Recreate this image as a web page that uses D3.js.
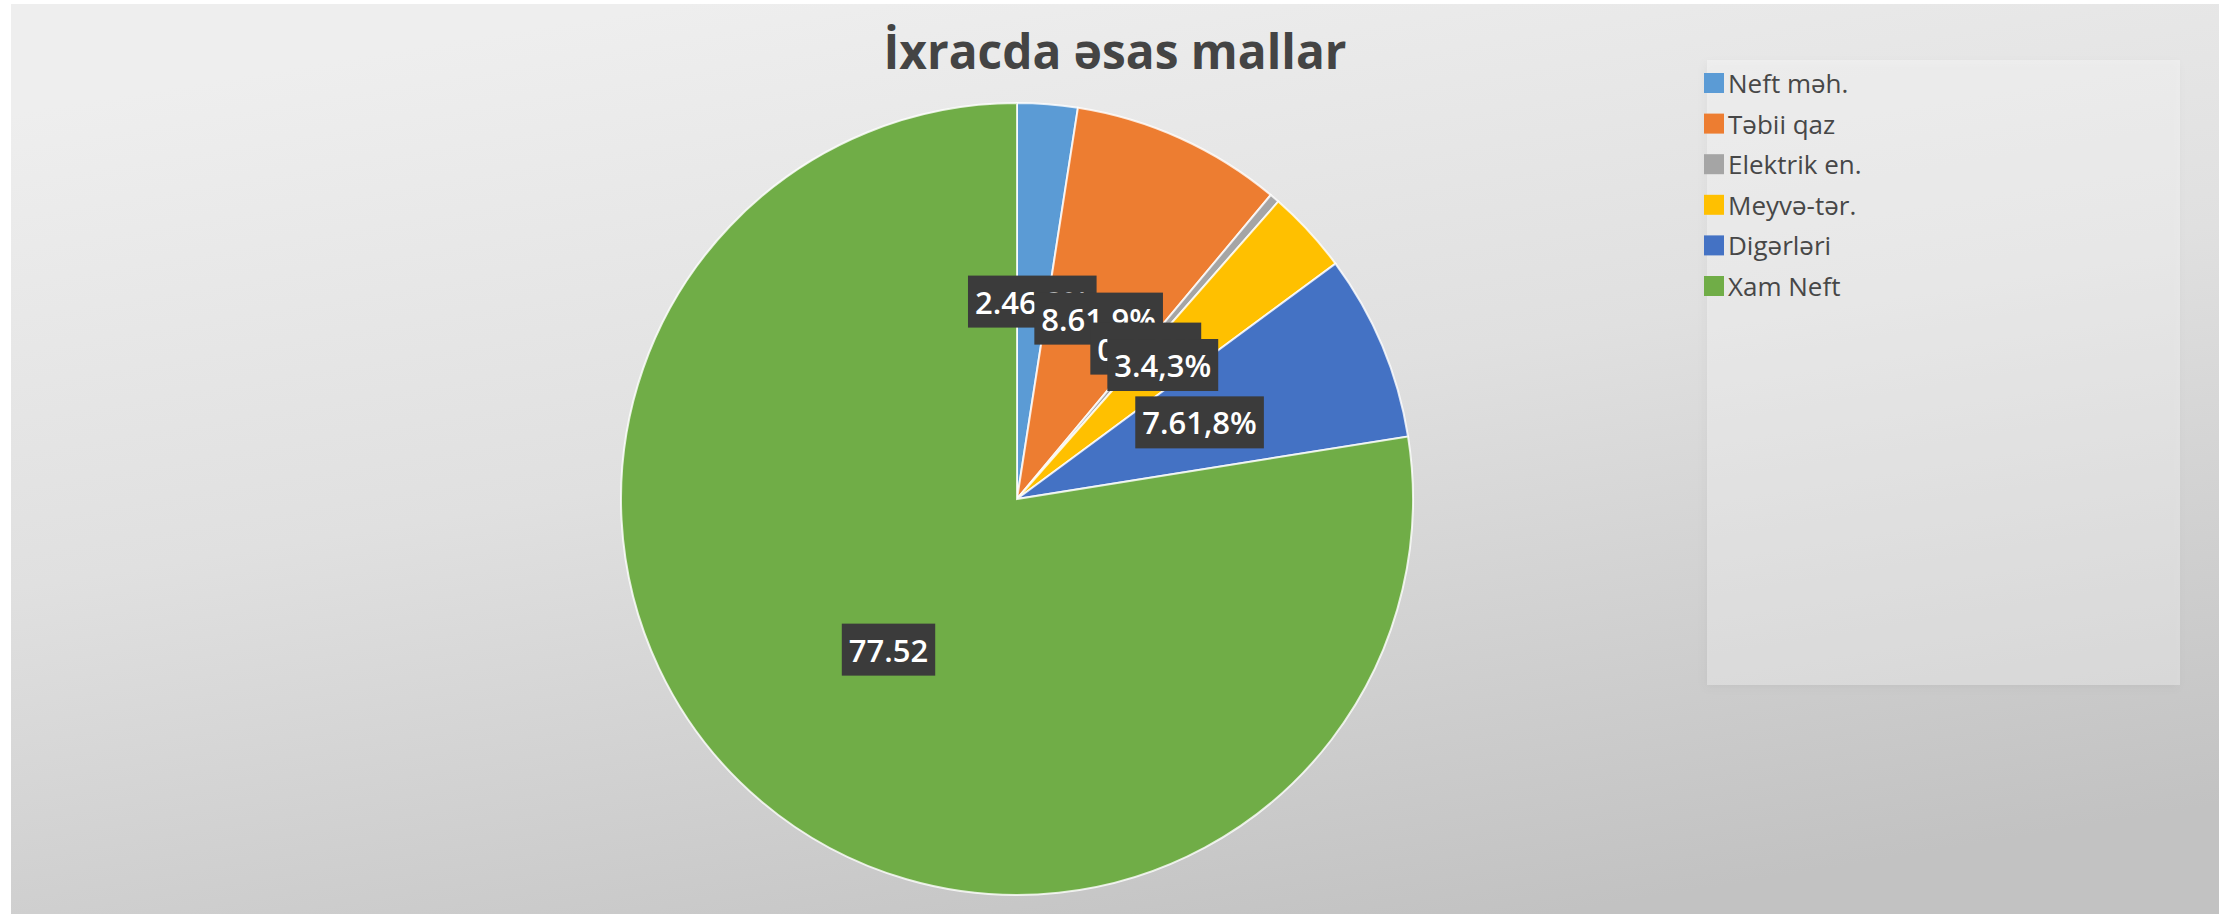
<!DOCTYPE html>
<html lang="az">
<head>
<meta charset="UTF-8">
<title>İxracda əsas mallar</title>
<script src="https://d3js.org/d3.v7.min.js"></script>
<style>
  body { margin: 0; background: #ffffff; }
  svg { display: block; }
  .title { font-family: "Open Sans", sans-serif; font-weight: 700; fill: #444444; }
  .legend text { font-family: "Open Sans", sans-serif; font-size: 26px; fill: #474747; }
  .labels text { font-family: "Open Sans", sans-serif; font-size: 31px; font-weight: 600; fill: #ffffff; }
</style>
</head>
<body>
<svg id="chart"></svg>
<script>
// data
const categories = ["Neft məh.", "Təbii qaz", "Elektrik en.", "Meyvə-tər.", "Digərləri", "Xam Neft"];
const values = [2.46, 8.61, 0.4, 3.4, 7.61, 77.52];
const labels = ["2.46,2%", "8.61,9%", "0.4,0%", "3.4,3%", "7.61,8%", "77.52"];
const colors = ["#5b9bd5", "#ed7d31", "#a5a5a5", "#ffc000", "#4472c4", "#70ad47"];

const w = 2234, h = 914;
const cx = 1017, cy = 499, radius = 396;

const svg = d3.select("#chart").attr("width", w).attr("height", h);
const defs = svg.append("defs");

// background gradient of the chart area
const bg = defs.append("linearGradient").attr("id", "bg")
  .attr("x1", "0.3").attr("y1", "0").attr("x2", "0.7").attr("y2", "1");
bg.append("stop").attr("offset", "0").attr("stop-color", "#eeeeee");
bg.append("stop").attr("offset", "0.45").attr("stop-color", "#e0e0e0");
bg.append("stop").attr("offset", "1").attr("stop-color", "#c2c2c2");

const shadow = defs.append("filter").attr("id", "soft")
  .attr("x", "-5%").attr("y", "-5%").attr("width", "110%").attr("height", "110%");
shadow.append("feDropShadow").attr("dx", -2).attr("dy", 3).attr("stdDeviation", 4)
  .attr("flood-color", "#000").attr("flood-opacity", 0.12);

svg.append("rect")
  .attr("x", 11).attr("y", 4).attr("width", 2208).attr("height", 910)
  .attr("fill", "url(#bg)");

// title
svg.append("text")
  .attr("class", "title")
  .attr("x", 1115).attr("y", 69)
  .attr("text-anchor", "middle")
  .attr("font-size", 48)
  .attr("textLength", 463).attr("lengthAdjust", "spacingAndGlyphs")
  .text("İxracda əsas mallar");

// legend
svg.append("rect")
  .attr("x", 1707).attr("y", 60).attr("width", 473).attr("height", 625)
  .attr("fill", "#ffffff").attr("fill-opacity", 0.3)
  .attr("filter", "url(#soft)");

const color = d3.scaleOrdinal().domain(categories).range(colors);
const rowY = d3.scalePoint().domain(categories).range([83, 286]);

const legend = svg.append("g").attr("class", "legend")
  .selectAll("g").data(categories).join("g")
  .attr("transform", d => `translate(1704,${rowY(d)})`);
legend.append("rect")
  .attr("x", 0).attr("y", -10).attr("width", 20).attr("height", 20)
  .attr("fill", d => color(d));
legend.append("text")
  .attr("x", 24).attr("y", 0)
  .attr("dominant-baseline", "central")
  .text(d => d);

// pie
const pie = d3.pie().sort(null).value(d => d.value);
const arcs = d3.arc().innerRadius(0).outerRadius(radius);
const slices = pie(categories.map((c, i) => ({ name: c, value: values[i], label: labels[i] })));

const pieG = svg.append("g").attr("transform", `translate(${cx},${cy})`);
pieG.selectAll("path").data(slices).join("path")
  .attr("d", arcs)
  .attr("fill", d => color(d.data.name))
  .attr("stroke", "#ffffff").attr("stroke-width", 2).attr("stroke-opacity", 0.8);

// data labels, later ones drawn over earlier ones
const labG = pieG.append("g").attr("class", "labels");
slices.forEach(d => {
  const [lx, ly] = arcs.centroid(d);
  const g = labG.append("g").attr("transform", `translate(${lx},${ly})`);
  const box = g.append("rect").attr("fill", "#3b3b3b");
  const t = g.append("text")
    .attr("text-anchor", "middle")
    .attr("dominant-baseline", "central")
    .text(d.data.label);
  const bb = t.node().getBBox();
  box.attr("x", bb.x - 7).attr("y", -26)
    .attr("width", bb.width + 14).attr("height", 52);
});
</script>
</body>
</html>
